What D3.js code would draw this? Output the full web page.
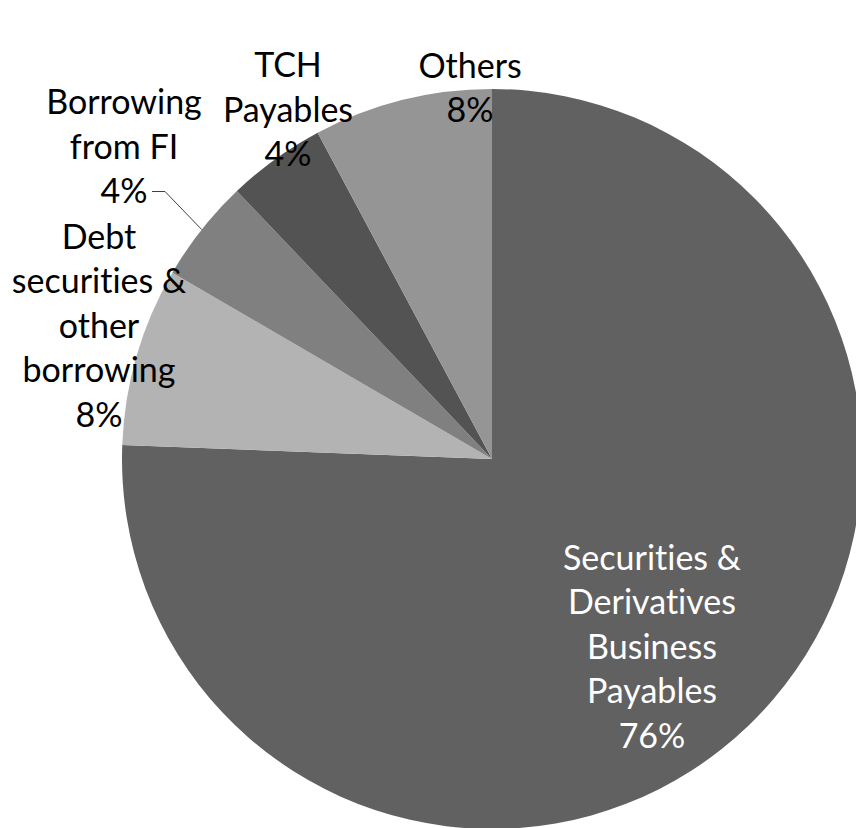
<!DOCTYPE html>
<html>
<head>
<meta charset="utf-8">
<script src="https://cdn.jsdelivr.net/npm/d3@7"></script>
<style>
  html, body { margin: 0; padding: 0; background: #ffffff; }
  svg { display: block; }
  text { font-family: Lato, "Open Sans", sans-serif; font-variant-ligatures: none; font-feature-settings: "liga" 0, "clig" 0; }
</style>
</head>
<body>
<svg id="chart" width="856" height="828"></svg>
<script>
// Liability breakdown (share of total, %)
const categories = [
  "Securities & Derivatives Business Payables",
  "Debt securities & other borrowing",
  "Borrowing from FI",
  "TCH Payables",
  "Others"
];
const shares = [75.6, 7.8, 4.49, 4.3, 7.81];

// Label text broken into lines as printed on the chart
const labelLines = [
  ["Securities &", "Derivatives", "Business", "Payables"],
  ["Debt", "securities &", "other", "borrowing"],
  ["Borrowing", "from FI"],
  ["TCH", "Payables"],
  ["Others"]
];

// ---- layout / styling ----
const width = 856, height = 828;
const cx = 492, cy = 459, radius = 370;
const fills = ["#616161", "#b3b3b3", "#808080", "#535353", "#959595"];
const textFill = ["#ffffff", "#000000", "#000000", "#000000", "#000000"];
const fontSize = 34, lineHeight = 44.5;
// label block centres, relative to the pie centre
const labelCentres = [[160, 188], [-393, -133], [-368, -312], [-204, -349], [-22, -371]];

const data = categories.map((c, i) => ({ name: c, value: shares[i], index: i }));

const svg = d3.select("#chart");
const g = svg.append("g").attr("transform", `translate(${cx},${cy})`);

const pie = d3.pie().sort(null).value(d => d.value);
const arc = d3.arc().innerRadius(0).outerRadius(radius);
const arcs = pie(data);

g.selectAll("path.slice")
  .data(arcs)
  .join("path")
  .attr("class", "slice")
  .attr("d", arc)
  .attr("fill", d => fills[d.data.index]);

// Leader line for the small "Borrowing from FI" slice
const leaderIdx = 2;
const la = arcs[leaderIdx];
const mid = (la.startAngle + la.endAngle) / 2;
const edge = [Math.sin(mid) * radius, -Math.cos(mid) * radius];
const lc = labelCentres[leaderIdx];
const lineStartY = lc[1] + lineHeight; // level of the percentage line
g.append("polyline")
  .attr("points", [[lc[0] + 28, lineStartY], [lc[0] + 41, lineStartY], edge].map(p => p.join(",")).join(" "))
  .attr("fill", "none")
  .attr("stroke", "#404040")
  .attr("stroke-width", 1);

// Category + percentage labels
arcs.forEach((a, i) => {
  const lines = labelLines[i].concat([Math.round(a.data.value) + "%"]);
  const n = lines.length;
  const [lx, ly] = labelCentres[i];
  const t = g.append("text")
    .attr("text-anchor", "middle")
    .attr("font-size", fontSize)
    .attr("fill", textFill[i]);
  lines.forEach((s, k) => {
    t.append("tspan")
      .attr("x", lx)
      .attr("y", ly + (k - (n - 1) / 2) * lineHeight)
      .attr("dy", "0.35em")
      .text(s);
  });
});
</script>
</body>
</html>
